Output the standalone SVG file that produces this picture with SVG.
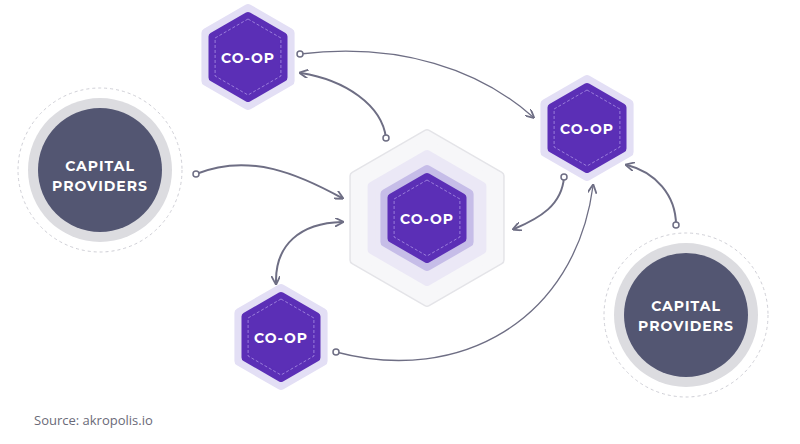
<svg xmlns="http://www.w3.org/2000/svg" width="800" height="444" viewBox="0 0 800 444">
<defs>
<style>
.ring{fill:#e3dff5;stroke:#e3dff5;stroke-width:10;stroke-linejoin:round}
.hex{fill:#5b2fb6;stroke:#5b2fb6;stroke-width:8;stroke-linejoin:round}
.dash{fill:none;stroke:#9a7ddb;stroke-width:1;stroke-dasharray:3 2;stroke-linejoin:round}
.lbl{font-family:Montserrat,"Open Sans","Liberation Sans",sans-serif;font-weight:700;fill:#fff;text-anchor:middle;letter-spacing:1px}
.c{fill:none;stroke:#6e6e84;stroke-width:1.3}
.ct{fill:none;stroke:#6e6e84;stroke-width:2}
.dot{fill:#fff;stroke:#6e6e84;stroke-width:1.5}
</style>
<marker id="ah" viewBox="0 0 10 10" refX="8" refY="5" markerWidth="9" markerHeight="9" markerUnits="userSpaceOnUse" orient="auto-start-reverse">
<path d="M0,0 L10,5 L0,10" fill="none" stroke="#6e6e84" stroke-width="2"/>
</marker>
<polygon id="h50" points="0,-48 41.6,-24 41.6,24 0,48 -41.6,24 -41.6,-24"/>
<polygon id="h42" points="0,-41 35.5,-20.5 35.5,20.5 0,41 -35.5,20.5 -35.5,-20.5"/>
<polygon id="h36" points="0,-38 32.9,-19 32.9,19 0,38 -32.9,19 -32.9,-19"/>
</defs>
<rect width="800" height="444" fill="#fff"/>

<g id="connectors">
<path class="c" d="M300,54 C400,42 480,70 533,117" marker-end="url(#ah)"/>
<circle class="dot" cx="300" cy="54" r="3"/>
<path class="ct" d="M386,138 C382,105 345,80 301,73" marker-end="url(#ah)"/>
<circle class="dot" cx="386" cy="138" r="3"/>
<path class="ct" d="M196,174 C250,152 300,175 342,198" marker-end="url(#ah)"/>
<circle class="dot" cx="196" cy="174" r="3"/>
<path class="ct" d="M342,222 C300,223 275,245 276,283" marker-start="url(#ah)" marker-end="url(#ah)"/>
<path class="ct" d="M564,177 C562,205 540,218 514,229" marker-end="url(#ah)"/>
<circle class="dot" cx="564" cy="177" r="3"/>
<path class="ct" d="M676,225 C676,195 655,172 627,165" marker-end="url(#ah)"/>
<circle class="dot" cx="676" cy="225" r="3"/>
<path class="c" d="M336,352 C460,385 575,320 593,186" marker-end="url(#ah)"/>
<circle class="dot" cx="336" cy="352" r="3"/>
</g>

<g id="cap1">
<circle cx="100" cy="170" r="82" fill="none" stroke="#cfcfd6" stroke-width="1" stroke-dasharray="3 3"/>
<circle cx="100" cy="170" r="72" fill="#dcdce0"/>
<circle cx="100" cy="170" r="62" fill="#535672"/>
<text class="lbl" x="100" y="171" font-size="14">CAPITAL</text>
<text class="lbl" x="100" y="191" font-size="14">PROVIDERS</text>
</g>

<g id="cap2">
<circle cx="686" cy="315" r="82" fill="none" stroke="#cfcfd6" stroke-width="1" stroke-dasharray="3 3"/>
<circle cx="686" cy="315" r="72" fill="#dcdce0"/>
<circle cx="686" cy="315" r="62" fill="#535672"/>
<text class="lbl" x="686" y="311" font-size="14">CAPITAL</text>
<text class="lbl" x="686" y="331" font-size="14">PROVIDERS</text>
</g>

<g id="coop-top" transform="translate(248,57)">
<use href="#h50" class="ring"/><use href="#h42" class="hex"/><use href="#h36" class="dash"/>
<text class="lbl" y="6" font-size="14">CO-OP</text>
</g>
<g id="coop-right" transform="translate(587,128)">
<use href="#h50" class="ring"/><use href="#h42" class="hex"/><use href="#h36" class="dash"/>
<text class="lbl" y="6" font-size="14">CO-OP</text>
</g>
<g id="coop-bottom" transform="translate(281,337)">
<use href="#h50" class="ring"/><use href="#h42" class="hex"/><use href="#h36" class="dash"/>
<text class="lbl" y="6" font-size="14">CO-OP</text>
</g>
<g id="coop-center" transform="translate(427,218)">
<polygon points="0,-84 72.7,-42 72.7,42 0,84 -72.7,42 -72.7,-42" fill="#f7f7f9" stroke="#e4e4e8" stroke-width="10" stroke-linejoin="round"/>
<polygon points="0,-84 72.7,-42 72.7,42 0,84 -72.7,42 -72.7,-42" fill="#f7f7f9" stroke="#f7f7f9" stroke-width="7" stroke-linejoin="round"/>
<polygon points="0,-64 55.4,-32 55.4,32 0,64 -55.4,32 -55.4,-32" fill="#ebe8f6" stroke="#ebe8f6" stroke-width="8" stroke-linejoin="round"/>
<use href="#h50" class="ring" style="fill:#c6bde8;stroke:#c6bde8"/>
<use href="#h42" class="hex"/><use href="#h36" class="dash"/>
<text class="lbl" y="6" font-size="14">CO-OP</text>
</g>

<text x="34" y="425" font-family="'Open Sans','Liberation Sans',sans-serif" font-size="13" fill="#6a6a78">Source: akropolis.io</text>
</svg>
